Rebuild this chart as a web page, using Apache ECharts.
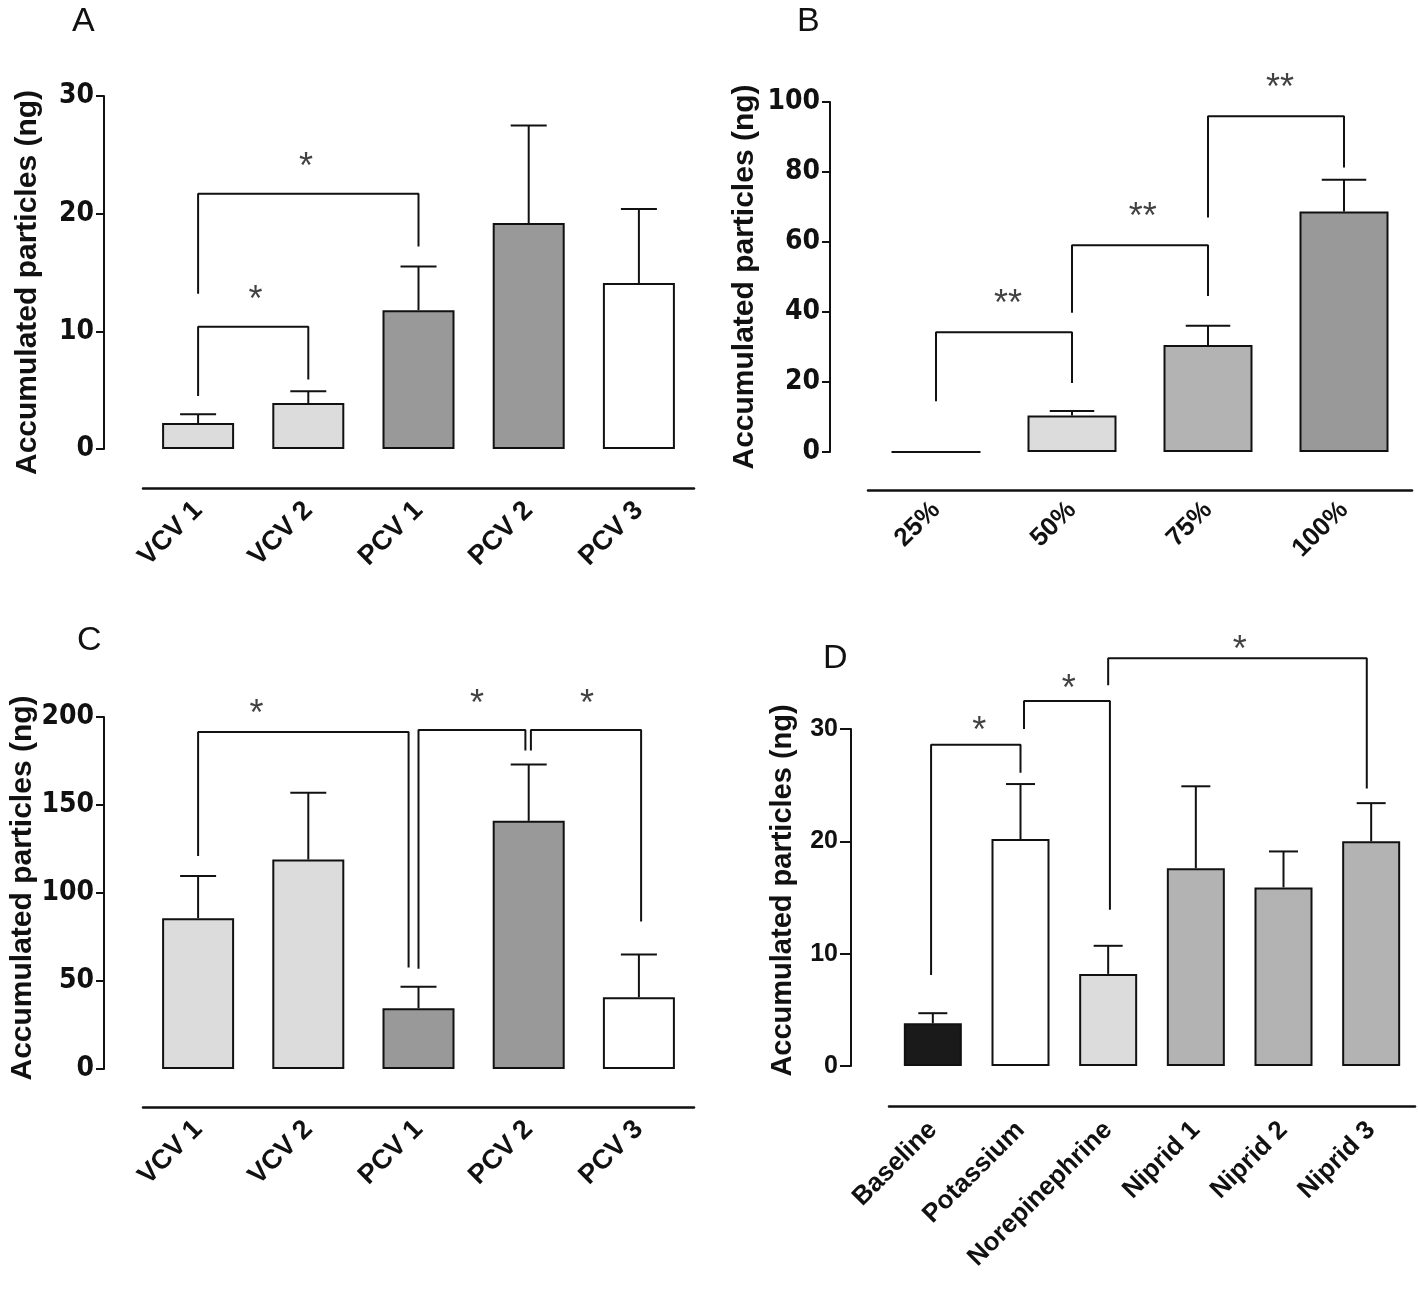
<!DOCTYPE html>
<html><head><meta charset="utf-8">
<script src="https://cdn.jsdelivr.net/npm/echarts@6/dist/echarts.min.js"></script>
<style>html,body{margin:0;padding:0;background:#fff}#c{width:1418px;height:1291px}</style>
</head><body><div id="c"></div>
<script>
// ---------- Panel A ----------
const catsA = ['VCV 1', 'VCV 2', 'PCV 1', 'PCV 2', 'PCV 3'];
const meanA = [2.2, 3.9, 11.8, 19.2, 14.1];
const errA = [2.95, 4.9, 15.5, 27.5, 20.4];
const colorsA = ['#dcdcdc', '#dcdcdc', '#999999', '#999999', '#ffffff'];
// [xLeft, yLeftBottom, yTop, xRight, yRightBottom]
const bracketsA = [[0, 13.2, 21.7, 2, 17.2], [0, 4.5, 10.4, 1, 5.9]];
const starsA = [[0.98, 23.9, '*'], [0.52, 12.6, '*']];

// ---------- Panel B ----------
const catsB = ['25%', '50%', '75%', '100%'];
const meanB = [0, 10.4, 30.6, 68.7];
const errB = [0, 11.7, 36.1, 77.8];
const colorsB = ['#ffffff', '#dcdcdc', '#b3b3b3', '#999999'];
const bracketsB = [[0, 14.5, 34.2, 1, 19.7], [1, 39.8, 59.1, 2, 44.6], [2, 67, 95.9, 3, 81.3]];
const starsB = [[0.53, 42, '**'], [1.52, 66.8, '**'], [2.53, 103.6, '**']];

// ---------- Panel C ----------
const catsC = ['VCV 1', 'VCV 2', 'PCV 1', 'PCV 2', 'PCV 3'];
const meanC = [85.7, 119, 34.5, 141, 40.8];
const errC = [109.6, 157, 46.8, 173, 65];
const colorsC = ['#dcdcdc', '#dcdcdc', '#999999', '#999999', '#ffffff'];
const bracketsC = [[0, 121, 191.5, 1.91, 57.6], [2, 56.9, 192.6, 2.97, 181], [3.02, 181, 192.6, 4.02, 83.8]];
const starsC = [[0.53, 201.3, '*'], [2.53, 207, '*'], [3.53, 207, '*']];

// ---------- Panel D ----------
const catsD = ['Baseline', 'Potassium', 'Norepinephrine', 'Niprid 1', 'Niprid 2', 'Niprid 3'];
const meanD = [3.8, 20.2, 8.2, 17.6, 15.9, 20.0];
const errD = [4.7, 25.1, 10.7, 24.9, 19.1, 23.4];
const colorsD = ['#1a1a1a', '#ffffff', '#dcdcdc', '#b3b3b3', '#b3b3b3', '#b3b3b3'];
const bracketsD = [[-0.02, 8.1, 28.6, 1, 26.1], [1.04, 30.0, 32.5, 2.02, 13.9], [2.0, 33.9, 36.3, 4.95, 24.7]];
const starsD = [[0.53, 29.7, '*'], [1.55, 33.5, '*'], [3.5, 36.9, '*']];

const yTitle = 'Accumulated particles (ng)';
const panelLetters = ['A', 'B', 'C', 'D'];

const tickFontC = "'DejaVu Sans Condensed', 'Liberation Sans', Arial, sans-serif";
const textFont = "'Liberation Sans', Arial, sans-serif";

const panels = [
  {cats: catsA, mean: meanA, err: errA, colors: colorsA, brackets: bracketsA, stars: starsA, max: 30, interval: 10,
   grid: {left: 143, top: 96, width: 551, height: 353}, yOff: 39, xOff: 39, barW: 72,
   tickFont: tickFontC, tickFs: 28, tickLen: 8, tickMargin: 10, lblFs: 27, lblMargin: 18,
   nameFs: 30, nameGap: 61, namePad: [0, 20, 0, 0]},
  {cats: catsB, mean: meanB, err: errB, colors: colorsB, brackets: bracketsB, stars: starsB, max: 100, interval: 20,
   grid: {left: 868, top: 102, width: 544, height: 350}, yOff: 38, xOff: 38, barW: 89,
   tickFont: tickFontC, tickFs: 28, tickLen: 8, tickMargin: 10, lblFs: 26, lblMargin: 16,
   nameFs: 30, nameGap: 70, namePad: [0, 0, 0, 0]},
  {cats: catsC, mean: meanC, err: errC, colors: colorsC, brackets: bracketsC, stars: starsC, max: 200, interval: 50,
   grid: {left: 143, top: 717, width: 551, height: 352}, yOff: 39, xOff: 38, barW: 72,
   tickFont: tickFontC, tickFs: 28, tickLen: 8, tickMargin: 10, lblFs: 27, lblMargin: 18,
   nameFs: 30, nameGap: 64, namePad: [0, 0, 0, 10]},
  {cats: catsD, mean: meanD, err: errD, colors: colorsD, brackets: bracketsD, stars: starsD, max: 30, interval: 10,
   grid: {left: 889, top: 729, width: 526, height: 337}, yOff: 38, xOff: 40, barW: 58,
   tickFont: textFont, tickFs: 25, tickLen: 11, tickMargin: 13, lblFs: 26, lblMargin: 20,
   nameFs: 29, nameGap: 54, namePad: [0, 0, 0, 14]}
];

const grids = [], xAxes = [], yAxes = [], series = [];
panels.forEach((p, k) => {
  grids.push(Object.assign({containLabel: false}, p.grid));
  const n = p.cats.length;
  xAxes.push({
    type: 'category', gridIndex: k, data: p.cats, offset: p.xOff,
    axisLine: {onZero: false, lineStyle: {color: '#111', width: 2.5}},
    axisTick: {alignWithLabel: true, length: 12, lineStyle: {color: '#111', width: 2}},
    axisLabel: {rotate: 45, interval: 0, fontFamily: textFont, fontWeight: 'bold', fontSize: p.lblFs, color: '#111', margin: p.lblMargin},
    splitLine: {show: false}
  });
  xAxes.push({type: 'value', gridIndex: k, min: -0.5, max: n - 0.5, show: false, splitLine: {show: false}});
  yAxes.push({
    type: 'value', gridIndex: k, min: 0, max: p.max, interval: p.interval, offset: p.yOff,
    name: yTitle, nameLocation: 'middle', nameGap: p.nameGap,
    nameTextStyle: {fontFamily: textFont, fontWeight: 'bold', fontSize: p.nameFs, color: '#111', padding: p.namePad},
    axisLine: {show: true, onZero: false, lineStyle: {color: '#111', width: 2}},
    axisTick: {show: true, length: p.tickLen, lineStyle: {color: '#111', width: 2}},
    axisLabel: {fontFamily: p.tickFont, fontWeight: 'bold', fontSize: p.tickFs, color: '#111', margin: p.tickMargin},
    splitLine: {show: false}
  });
  // bars
  series.push({
    type: 'bar', xAxisIndex: 2 * k, yAxisIndex: k, barWidth: p.barW,
    data: p.mean.map((v, i) => ({value: v, itemStyle: {color: p.colors[i], borderColor: '#111', borderWidth: 2}})),
    silent: true, animation: false
  });
  // error bars
  const capHalf = p.barW / 4;
  series.push({
    type: 'custom', xAxisIndex: 2 * k, yAxisIndex: k, clip: false, animation: false, silent: true,
    data: p.mean.map((v, i) => [i, v, p.err[i]]),
    renderItem: (params, api) => {
      if (api.value(2) <= api.value(1)) return null;
      const b = api.coord([api.value(0), api.value(1)]);
      const t = api.coord([api.value(0), api.value(2)]);
      const st = {stroke: '#111', lineWidth: 2};
      return {type: 'group', children: [
        {type: 'line', shape: {x1: b[0], y1: b[1], x2: t[0], y2: t[1]}, style: st},
        {type: 'line', shape: {x1: t[0] - capHalf, y1: t[1], x2: t[0] + capHalf, y2: t[1]}, style: st}
      ]};
    }
  });
  // brackets
  p.brackets.forEach(br => {
    series.push({
      type: 'line', xAxisIndex: 2 * k + 1, yAxisIndex: k, clip: false, animation: false, silent: true,
      symbol: 'none', lineStyle: {color: '#111', width: 2},
      data: [[br[0], br[1]], [br[0], br[2]], [br[3], br[2]], [br[3], br[4]]]
    });
  });
  // stars
  series.push({
    type: 'scatter', xAxisIndex: 2 * k + 1, yAxisIndex: k, clip: false, animation: false, silent: true,
    symbolSize: 1, itemStyle: {color: 'rgba(0,0,0,0)'},
    data: p.stars.map(s => ({value: [s[0], s[1]], name: s[2]})),
    label: {show: true, position: 'inside', formatter: d => d.name, fontFamily: textFont, fontSize: 36, color: '#111'}
  });
});

const letterPos = [[67, 0], [792, 0], [72, 619], [818, 637]];
const titles = panelLetters.map((t, i) => ({
  text: t, left: letterPos[i][0], top: letterPos[i][1],
  textStyle: {fontFamily: textFont, fontWeight: 'normal', fontSize: 34, color: '#111'}
}));

const chart = echarts.init(document.getElementById('c'), null, {renderer: 'canvas'});
chart.setOption({
  backgroundColor: '#fff', animation: false,
  title: titles, grid: grids, xAxis: xAxes, yAxis: yAxes, series: series
});
</script></body></html>
